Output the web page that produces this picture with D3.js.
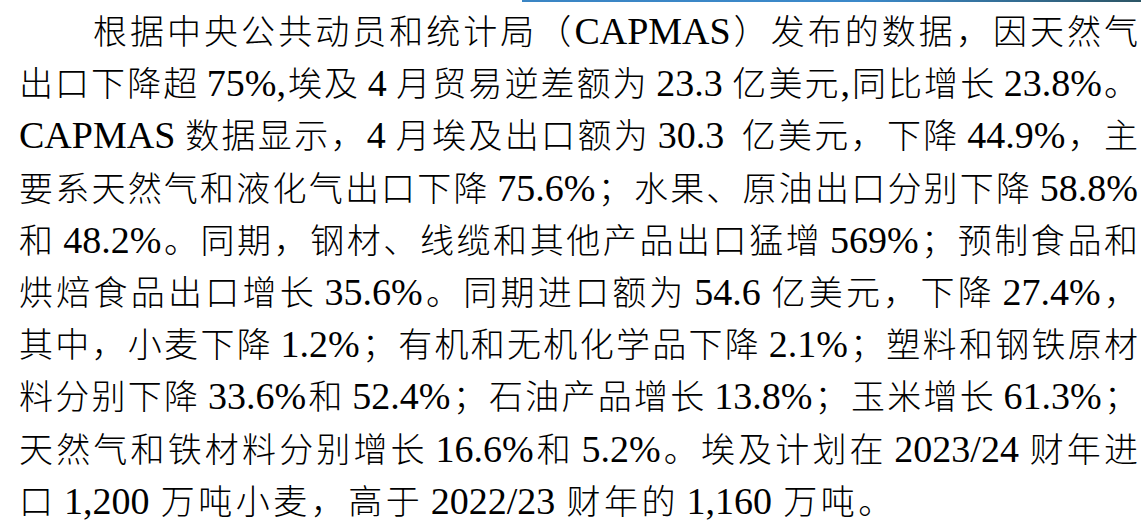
<!DOCTYPE html>
<html>
<head>
<meta charset="utf-8">
<script src="https://cdn.jsdelivr.net/npm/d3@7"></script>
<style>
  body { margin: 0; background: #fff; }
  svg { display: block; }
</style>
</head>
<body>
<div id="page"></div>
<script>
// paragraph text, one entry per printed line
var paragraphLines = [
    "根据中央公共动员和统计局（CAPMAS）发布的数据，因天然气",
    "出口下降超 75%,埃及 4 月贸易逆差额为 23.3 亿美元,同比增长 23.8%。",
    "CAPMAS 数据显示，4 月埃及出口额为 30.3  亿美元，下降 44.9%，主",
    "要系天然气和液化气出口下降 75.6%；水果、原油出口分别下降 58.8%",
    "和 48.2%。同期，钢材、线缆和其他产品出口猛增 569%；预制食品和",
    "烘焙食品出口增长 35.6%。同期进口额为 54.6 亿美元，下降 27.4%，",
    "其中，小麦下降 1.2%；有机和无机化学品下降 2.1%；塑料和钢铁原材",
    "料分别下降 33.6%和 52.4%；石油产品增长 13.8%；玉米增长 61.3%；",
    "天然气和铁材料分别增长 16.6%和 5.2%。埃及计划在 2023/24 财年进",
    "口 1,200 万吨小麦，高于 2022/23 财年的 1,160 万吨。"
];
// first-line indent, in characters
var lineIndents = [2, 0, 0, 0, 0, 0, 0, 0, 0, 0];
// which lines are spread to the full measure (last line is not)
var lineJustified = [true, true, true, true, true, true, true, true, true, false];

var W = 1141, H = 526;
var cjkSize = 34, latinSize = 38;
var left = 19, right = 1138;
var gridGap = 3.5;   // spacing used on the unjustified last line

var svg = d3.select("#page").append("svg")
    .attr("width", W)
    .attr("height", H);

// thin blue rule at the top right
var grad = svg.append("defs").append("linearGradient")
    .attr("id", "rule")
    .attr("x1", "0%").attr("x2", "100%");
grad.append("stop").attr("offset", "0%").attr("stop-color", "#3a85c4");
grad.append("stop").attr("offset", "55%").attr("stop-color", "#3b89ca");
grad.append("stop").attr("offset", "100%").attr("stop-color", "#2c5565");
svg.append("rect")
    .attr("x", 522).attr("y", 0)
    .attr("width", W - 522).attr("height", 2)
    .attr("fill", "url(#rule)");

var lineY = d3.scaleLinear().domain([0, paragraphLines.length - 1]).range([44, 44 + 9 * 52.2]);

function tokenize(s) {
    return s.match(/[!-~]+| +|[^\x00-\x7f]/g);
}

var body = svg.append("g").attr("class", "para");

paragraphLines.forEach(function (line, li) {
    var toks = tokenize(line);
    var g = body.append("g").attr("transform", "translate(0," + lineY(li) + ")");
    var items = [];
    toks.forEach(function (t) {
        if (/^ +$/.test(t)) {
            items.push({ space: t.length });
            return;
        }
        var latin = /^[!-~]+$/.test(t);
        var el = g.append("text")
            .attr("font-family", latin ? "'Liberation Serif', 'Times New Roman', serif"
                                       : "'Noto Sans CJK SC Light', 'Noto Sans CJK SC', sans-serif")
            .attr("font-weight", latin ? 400 : 300)
            .attr("font-size", latin ? latinSize : cjkSize)
            .attr("fill", "#000")
            .text(t);
        items.push({ el: el, w: el.node().getComputedTextLength() });
    });

    var x0 = left + lineIndents[li] * 37;
    var spaceW = latinSize * 0.2;
    var used = 0, gaps = 0, prevVisible = false;
    items.forEach(function (it) {
        if (it.space) { used += it.space * spaceW; return; }
        used += it.w;
        if (prevVisible) gaps++;
        prevVisible = true;
    });
    var extra = lineJustified[li] && gaps > 0 ? (right - x0 - used) / gaps : gridGap;

    var x = x0, first = true;
    items.forEach(function (it) {
        if (it.space) { x += it.space * spaceW; return; }
        if (!first) x += extra;
        it.el.attr("x", x);
        x += it.w;
        first = false;
    });
});
</script>
</body>
</html>
